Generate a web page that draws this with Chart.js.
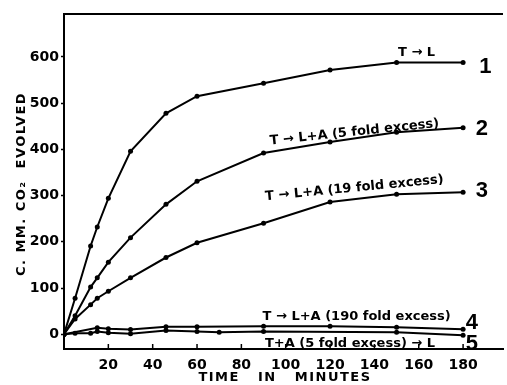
<!DOCTYPE html>
<html>
<head>
<meta charset="utf-8">
<script src="https://cdn.jsdelivr.net/npm/chart.js@4/dist/chart.umd.min.js"></script>
<style>
html,body{margin:0;padding:0;background:#fff;}
#wrap{width:507px;height:385px;position:relative;}
</style>
</head>
<body>
<div id="wrap"><canvas id="c" width="507" height="385"></canvas></div>
<script>
// ---- data ----
const times1 = [0, 5, 12, 15, 20, 30, 46, 60, 90, 120, 150, 180];
const curve1 = [0, 78, 191, 232, 294, 396, 478, 515, 543, 572, 588, 588];
const times2 = [0, 5, 12, 15, 20, 30, 46, 60, 90, 120, 150, 180];
const curve2 = [0, 40, 102, 122, 156, 209, 281, 331, 392, 416, 437, 447];
const times3 = [0, 5, 12, 15, 20, 30, 46, 60, 90, 120, 150, 180];
const curve3 = [0, 33, 64, 78, 93, 122, 166, 198, 240, 286, 303, 307];
const times4 = [0, 15, 20, 30, 46, 60, 90, 120, 150, 180];
const curve4 = [0, 14, 12, 10, 16, 16, 17, 17, 15, 11];
const times5 = [0, 5, 12, 15, 20, 30, 46, 60, 70, 90, 150, 180];
const curve5 = [0, 2, 2, 6, 3, 1, 8, 6, 4, 6, 4, -2];

const xTicks = [20, 40, 60, 80, 100, 120, 140, 160, 180];
const yTicks = [0, 100, 200, 300, 400, 500, 600];

const curveLabels = [
  "T \u2192 L",
  "T \u2192 L+A (5 fold excess)",
  "T \u2192 L+A (19 fold excess)",
  "T \u2192 L+A (190 fold excess)",
  "T+A (5 fold excess) \u2192 L"
];
const curveNumbers = ["1", "2", "3", "4", "5"];

// label placement (data coordinates) and rotation
const labelPlace = [
  {x: 159, y: 609, rot: 0},
  {x: 131, y: 437, rot: -6},
  {x: 131, y: 316, rot: -5.5},
  {x: 132, y: 39, rot: 0},
  {x: 129, y: -20, rot: 0}
];
const numberPlace = [
  {x: 190, y: 578},
  {x: 188.5, y: 444},
  {x: 188.5, y: 310},
  {x: 184, y: 24},
  {x: 184, y: -22}
];

const FONT = "'DejaVu Sans', sans-serif";

function pts(xs, ys) { return xs.map((x, i) => ({x: x, y: ys[i]})); }

function ds(xs, ys) {
  return {
    data: pts(xs, ys),
    borderColor: '#000',
    backgroundColor: '#000',
    borderWidth: 2,
    pointRadius: 2.5,
    pointBackgroundColor: '#000',
    pointBorderWidth: 0,
    tension: 0,
    fill: false
  };
}

const decor = {
  id: 'decor',
  afterDraw(chart) {
    const ctx = chart.ctx;
    const xs = chart.scales.x, ys = chart.scales.y;
    const ca = chart.chartArea;
    ctx.save();
    // top border
    ctx.strokeStyle = '#000';
    ctx.lineWidth = 2;
    ctx.beginPath();
    ctx.moveTo(ca.left, ca.top);
    ctx.lineTo(ca.right, ca.top);
    ctx.stroke();
    // inside x tick marks
    ctx.lineWidth = 1.5;
    xTicks.forEach(v => {
      const px = xs.getPixelForValue(v);
      ctx.beginPath();
      ctx.moveTo(px, ca.bottom);
      ctx.lineTo(px, ca.bottom - 5);
      ctx.stroke();
    });
    // curve labels
    ctx.fillStyle = '#000';
    ctx.textAlign = 'center';
    ctx.textBaseline = 'middle';
    ctx.font = "bold 13px " + FONT;
    curveLabels.forEach((t, i) => {
      const p = labelPlace[i];
      ctx.save();
      ctx.translate(xs.getPixelForValue(p.x), ys.getPixelForValue(p.y));
      ctx.rotate(p.rot * Math.PI / 180);
      ctx.fillText(t, 0, 0);
      ctx.restore();
    });
    // curve numbers
    ctx.font = "bold 22px 'Liberation Sans', sans-serif";
    curveNumbers.forEach((t, i) => {
      const p = numberPlace[i];
      ctx.fillText(t, xs.getPixelForValue(p.x), ys.getPixelForValue(p.y));
    });
    // axis titles
    ctx.font = "bold 13px " + FONT;
    ctx.letterSpacing = '1.5px';
    ctx.fillText("TIME   IN   MINUTES", 285, 378);
    ctx.save();
    ctx.translate(22, 184);
    ctx.rotate(-Math.PI / 2);
    ctx.letterSpacing = '1.5px';
    ctx.fillText("C. MM. CO\u2082  EVOLVED", 0, 0);
    ctx.restore();
    ctx.restore();
  }
};

new Chart(document.getElementById('c'), {
  type: 'line',
  data: {
    datasets: [ds(times1, curve1), ds(times2, curve2), ds(times3, curve3), ds(times4, curve4), ds(times5, curve5)]
  },
  options: {
    responsive: false,
    animation: false,
    devicePixelRatio: 1,
    layout: {padding: {top: 14, right: 0, left: 0, bottom: 0}},
    plugins: {legend: {display: false}, tooltip: {enabled: false}, title: {display: false}},
    scales: {
      x: {
        type: 'linear',
        min: 0,
        max: 198,
        afterBuildTicks: s => { s.ticks = xTicks.map(v => ({value: v})); },
        afterFit: s => { s.height = 36; },
        grid: {display: false},
        border: {display: true, color: '#000', width: 2},
        ticks: {color: '#000', padding: 0, maxRotation: 0, autoSkip: false,
                font: {family: FONT, size: 14, weight: 'bold'}}
      },
      y: {
        type: 'linear',
        min: -32,
        max: 693,
        afterBuildTicks: s => { s.ticks = yTicks.map(v => ({value: v})); },
        afterFit: s => { s.width = 64; },
        grid: {display: true, drawOnChartArea: false, drawTicks: true, tickLength: 3, color: '#000', tickWidth: 1.5},
        border: {display: true, color: '#000', width: 2},
        ticks: {color: '#000', padding: 2, autoSkip: false,
                font: {family: FONT, size: 14, weight: 'bold'}}
      }
    }
  },
  plugins: [decor]
});
</script>
</body>
</html>
